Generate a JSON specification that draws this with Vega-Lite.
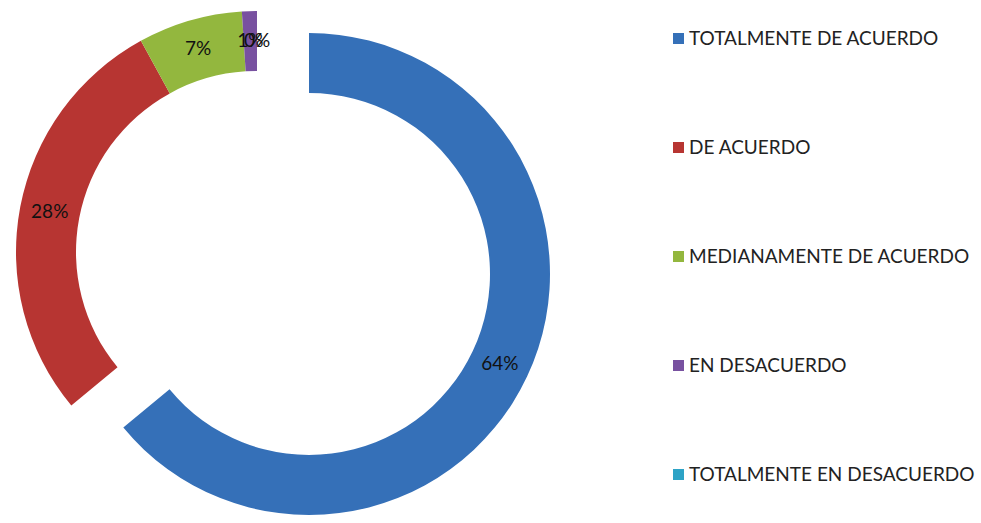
{
  "$schema": "https://vega.github.io/schema/vega-lite/v6.json",
  "width": 514,
  "height": 504,
  "padding": {"left": 0, "top": 0, "right": 467, "bottom": 19},
  "autosize": {"type": "none"},
  "background": "white",
  "config": {"view": {"stroke": null}},
  "data": {"values": [
    {"cat": "TOTALMENTE DE ACUERDO", "pct": 64, "n": 1, "label": "64%"},
    {"cat": "DE ACUERDO", "pct": 28, "n": 2, "label": "28%"},
    {"cat": "MEDIANAMENTE DE ACUERDO", "pct": 7, "n": 3, "label": "7%"},
    {"cat": "EN DESACUERDO", "pct": 1, "n": 4, "label": "1%"},
    {"cat": "TOTALMENTE EN DESACUERDO", "pct": 0, "n": 5, "label": "0%"}
  ]},
  "encoding": {
    "theta": {"field": "pct", "type": "quantitative", "stack": true},
    "order": {"field": "n", "type": "quantitative"}
  },
  "layer": [
    {
      "mark": {"type": "arc", "innerRadius": 181, "outerRadius": 241},
      "encoding": {
        "color": {
          "field": "cat", "type": "nominal",
          "scale": {
            "domain": ["TOTALMENTE DE ACUERDO", "DE ACUERDO", "MEDIANAMENTE DE ACUERDO", "EN DESACUERDO", "TOTALMENTE EN DESACUERDO"],
            "range": ["#3570B8", "#B73532", "#93B73E", "#7851A0", "#2DA3C6"]
          },
          "legend": {
            "orient": "none", "legendX": 669, "legendY": 29, "title": null,
            "symbolType": "square", "symbolSize": 121, "symbolStrokeWidth": 0,
            "labelFont": "Lato", "labelFontSize": 19, "labelColor": "#222222",
            "labelOffset": 1, "rowPadding": 89, "labelLimit": 400
          }
        },
        "opacity": {"condition": {"test": "datum.n === 1", "value": 0}, "value": 1}
      }
    },
    {
      "mark": {"type": "arc", "innerRadius": 181, "outerRadius": 241, "xOffset": 52, "yOffset": 22},
      "encoding": {
        "color": {"field": "cat", "type": "nominal"},
        "opacity": {"condition": {"test": "datum.n !== 1", "value": 0}, "value": 1}
      }
    },
    {
      "mark": {"type": "text", "radius": 211, "font": "Lato", "fontSize": 19},
      "encoding": {
        "detail": {"field": "cat", "type": "nominal"},
        "text": {"field": "label"},
        "color": {"value": "#111111"},
        "opacity": {"condition": {"test": "datum.n === 1", "value": 0}, "value": 1}
      }
    },
    {
      "mark": {"type": "text", "radius": 211, "font": "Lato", "fontSize": 19, "xOffset": 52, "yOffset": 22},
      "encoding": {
        "detail": {"field": "cat", "type": "nominal"},
        "text": {"field": "label"},
        "color": {"value": "#111111"},
        "opacity": {"condition": {"test": "datum.n !== 1", "value": 0}, "value": 1}
      }
    }
  ]
}
